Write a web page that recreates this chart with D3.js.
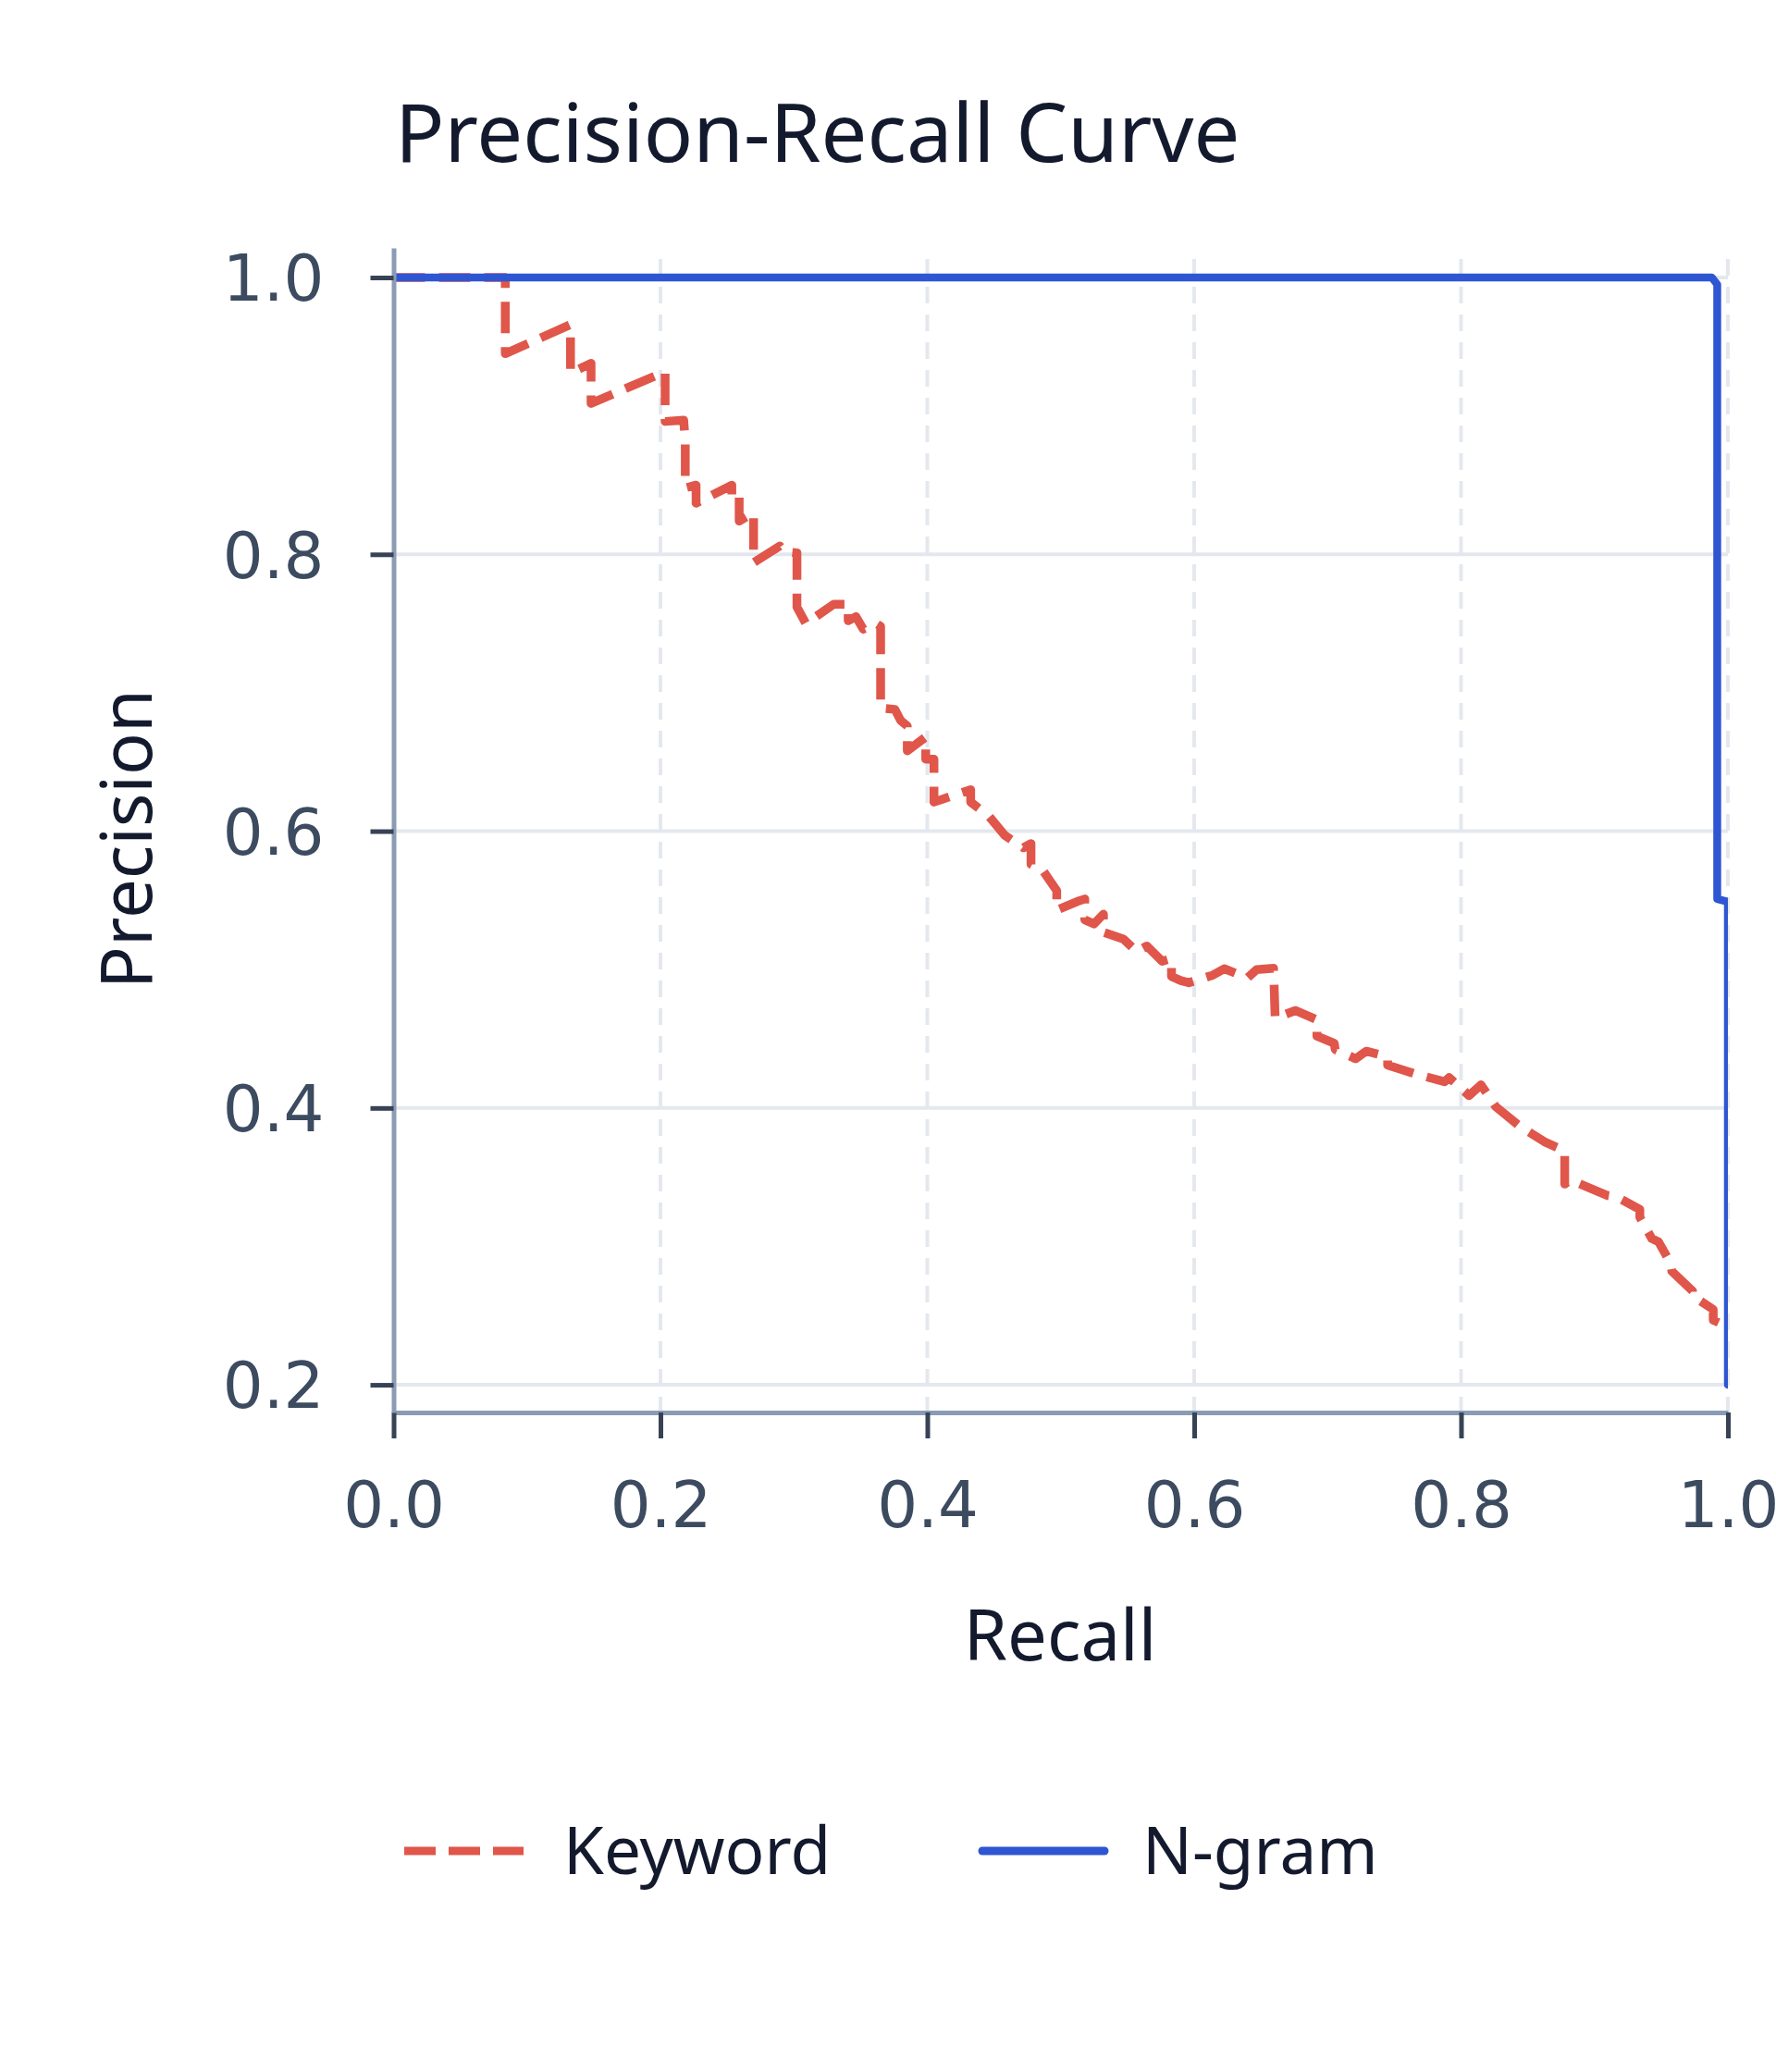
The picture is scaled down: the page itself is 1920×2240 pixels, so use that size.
<!DOCTYPE html>
<html>
<head>
<meta charset="utf-8">
<script src="https://cdn.jsdelivr.net/npm/d3@7"></script>
<style>
    body { margin: 0; background: #ffffff; }
</style>
</head>
<body>
<svg id="drawing_region"></svg>
<script>
// Keyword PR curve
const keyword_recall = [
    0, 0.0837, 0.0837, 0.1326, 0.1326, 0.148, 0.148, 0.2035, 0.2035, 0.2174,
    0.2186, 0.2186, 0.2267, 0.2267, 0.2535, 0.2535, 0.259, 0.259, 0.2698, 0.2698,
    0.2895, 0.293, 0.3023, 0.3023, 0.309, 0.33, 0.3407, 0.3407, 0.3465, 0.352,
    0.3616, 0.365, 0.365, 0.3757, 0.38, 0.385, 0.385, 0.3988, 0.3988, 0.405,
    0.405, 0.4325, 0.4325, 0.446, 0.458, 0.472, 0.4777, 0.4777, 0.487, 0.497,
    0.497, 0.512, 0.518, 0.518, 0.525, 0.532, 0.532, 0.541, 0.547, 0.557,
    0.5645, 0.576, 0.583, 0.583, 0.59, 0.596, 0.614, 0.6225, 0.64, 0.6468,
    0.6595, 0.6607, 0.6758, 0.692, 0.692, 0.705, 0.7057, 0.721, 0.729, 0.745,
    0.745, 0.7665, 0.7876, 0.791, 0.806, 0.815, 0.826, 0.8425, 0.846, 0.8625,
    0.8777, 0.8777, 0.882, 0.91, 0.917, 0.934, 0.934, 0.943, 0.948, 0.957,
    0.958, 0.9735, 0.9735, 0.989, 0.989, 1.0
];
const keyword_precision = [
    1.0, 1.0, 0.945, 0.966, 0.931, 0.938, 0.909, 0.932, 0.896, 0.897,
    0.882, 0.848, 0.85, 0.837, 0.85, 0.84, 0.842, 0.824, 0.83, 0.794,
    0.806, 0.802, 0.801, 0.762, 0.75, 0.764, 0.764, 0.752, 0.755, 0.746,
    0.75, 0.748, 0.689, 0.688, 0.68, 0.676, 0.658, 0.668, 0.652, 0.652,
    0.621, 0.63, 0.621, 0.611, 0.597, 0.588, 0.591, 0.576, 0.571, 0.557,
    0.543, 0.549, 0.551, 0.536, 0.533, 0.54, 0.527, 0.524, 0.522, 0.513,
    0.517, 0.506, 0.508, 0.495, 0.492, 0.4905, 0.496, 0.5006, 0.494, 0.5,
    0.501, 0.4648, 0.4704, 0.4637, 0.452, 0.4467, 0.4422, 0.4356, 0.441, 0.437,
    0.431, 0.4244, 0.419, 0.422, 0.409, 0.4167, 0.401, 0.388, 0.3856, 0.3756,
    0.369, 0.345, 0.348, 0.3367, 0.3356, 0.3267, 0.321, 0.3056, 0.3033, 0.288,
    0.282, 0.2678, 0.2644, 0.2544, 0.2467, 0.242
];

// N-gram PR curve
const ngram_recall    = [0, 0.988, 0.992, 0.992, 1.0, 1.0];
const ngram_precision = [1.0, 1.0, 0.995, 0.551, 0.549, 0.2];

const series_names = ["Keyword", "N-gram"];
const x_ticks = [0, 0.2, 0.4, 0.6, 0.8, 1.0];
const y_ticks = [0.2, 0.4, 0.6, 0.8, 1.0];

const config = {
    width: 1920,
    height: 2240,
    left: 425.5,
    right: 1868,
    top: 268,
    bottom: 1527
};

const colors = { Keyword: "#e0564a", "N-gram": "#2f56d2" };
const text_font = "'Noto Sans', 'Open Sans', sans-serif";
const tick_font = "'DejaVu Sans', sans-serif";

const svg = d3.select("#drawing_region")
    .attr("width", config.width)
    .attr("height", config.height);

const xscale = d3.scaleLinear()
    .domain([0, 1])
    .range([config.left, config.right]);

const yscale = d3.scaleLinear()
    .domain([0.18, 1.0214])
    .range([config.bottom, config.top]);

// grid
svg.append("g")
    .selectAll("line")
    .data(y_ticks)
    .join("line")
    .attr("x1", config.left)
    .attr("x2", config.right)
    .attr("y1", d => yscale(d))
    .attr("y2", d => yscale(d))
    .attr("stroke", "#e4e8ee")
    .attr("stroke-width", 4);

svg.append("g")
    .selectAll("line")
    .data(x_ticks.slice(1))
    .join("line")
    .attr("x1", d => xscale(d))
    .attr("x2", d => xscale(d))
    .attr("y1", config.top + 12)
    .attr("y2", config.bottom)
    .attr("stroke", "#e4e8ee")
    .attr("stroke-width", 4)
    .attr("stroke-dasharray", "18,12");

// curves
svg.append("defs")
    .append("clipPath")
    .attr("id", "plot_clip")
    .append("rect")
    .attr("x", config.left)
    .attr("y", config.top - 10)
    .attr("width", config.right - config.left)
    .attr("height", config.bottom - config.top + 10);

const line = d3.line()
    .x(d => xscale(d[0]))
    .y(d => yscale(d[1]));

const keyword_points = keyword_recall.map((r, i) => [r, keyword_precision[i]]);
const ngram_points = ngram_recall.map((r, i) => [r, ngram_precision[i]]);

const plot = svg.append("g").attr("clip-path", "url(#plot_clip)");

plot.append("path")
    .datum(keyword_points)
    .attr("d", line)
    .attr("fill", "none")
    .attr("stroke", colors.Keyword)
    .attr("stroke-width", 9.5)
    .attr("stroke-dasharray", "34,15")
    .attr("stroke-linejoin", "round");

plot.append("path")
    .datum(ngram_points)
    .attr("d", line)
    .attr("fill", "none")
    .attr("stroke", colors["N-gram"])
    .attr("stroke-width", 8.5)
    .attr("stroke-linejoin", "round")
    .attr("stroke-linecap", "round");

// axes
const xaxis = d3.axisBottom(xscale)
    .tickValues(x_ticks)
    .tickFormat(d3.format(".1f"))
    .tickSize(28)
    .tickSizeOuter(0);

const yaxis = d3.axisLeft(yscale)
    .tickValues(y_ticks)
    .tickFormat(d3.format(".1f"))
    .tickSize(25)
    .tickSizeOuter(0);

const xaxis_group = svg.append("g")
    .attr("transform", `translate(0, ${config.bottom})`)
    .call(xaxis);

const yaxis_group = svg.append("g")
    .attr("transform", `translate(${config.left}, 0)`)
    .call(yaxis);

[xaxis_group, yaxis_group].forEach(g => {
    g.select(".domain")
        .attr("stroke", "#8b9bb4")
        .attr("stroke-width", 5);
    g.selectAll(".tick line")
        .attr("stroke", "#374355")
        .attr("stroke-width", 5);
    g.selectAll(".tick text")
        .attr("fill", "#3c4b5f")
        .attr("font-family", tick_font)
        .attr("font-size", 69);
});

xaxis_group.selectAll(".tick text")
    .attr("y", 124)
    .attr("dy", 0);

yaxis_group.selectAll(".tick text")
    .attr("x", -75)
    .attr("dy", "0.36em");

// titles
svg.append("text")
    .attr("x", 427)
    .attr("y", 175)
    .attr("font-family", text_font)
    .attr("font-size", 88.5)
    .attr("fill", "#141a2e")
    .text("Precision-Recall Curve");

svg.append("text")
    .attr("transform", "translate(164, 907) rotate(-90)")
    .attr("text-anchor", "middle")
    .attr("font-family", text_font)
    .attr("font-size", 76)
    .attr("fill", "#141a2e")
    .text("Precision");

svg.append("text")
    .attr("x", 1146)
    .attr("y", 1795)
    .attr("text-anchor", "middle")
    .attr("font-family", text_font)
    .attr("font-size", 76)
    .attr("fill", "#141a2e")
    .text("Recall");

// legend
const legend_items = [
    { name: series_names[0], x1: 437, x2: 566, tx: 609, dash: "34,14", cap: "butt" },
    { name: series_names[1], x1: 1062, x2: 1194, tx: 1235, dash: null, cap: "round" }
];

const legend = svg.append("g")
    .selectAll("g")
    .data(legend_items)
    .join("g");

legend.append("line")
    .attr("x1", d => d.x1)
    .attr("x2", d => d.x2)
    .attr("y1", 2001)
    .attr("y2", 2001)
    .attr("stroke", d => colors[d.name])
    .attr("stroke-width", 9)
    .attr("stroke-dasharray", d => d.dash)
    .attr("stroke-linecap", d => d.cap);

legend.append("text")
    .attr("x", d => d.tx)
    .attr("y", 2026)
    .attr("font-family", text_font)
    .attr("font-size", 71)
    .attr("fill", "#141a2e")
    .text(d => d.name);
</script>
</body>
</html>
